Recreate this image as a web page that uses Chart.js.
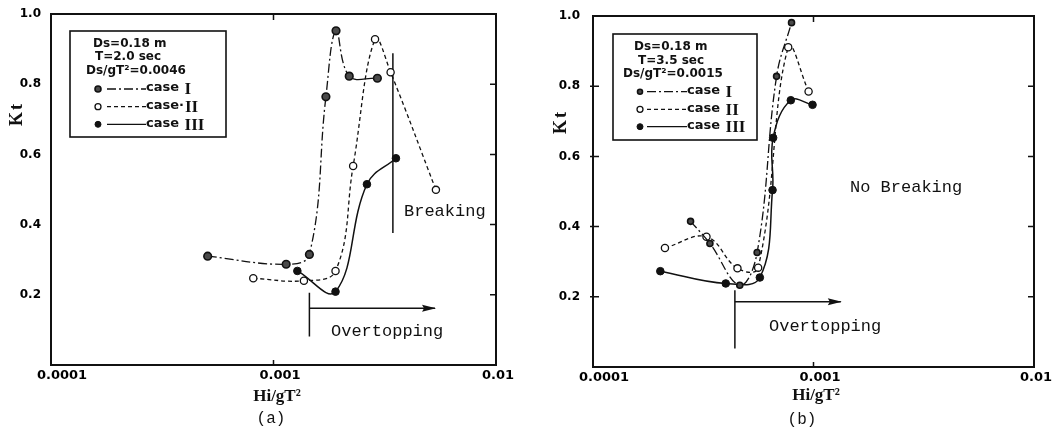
<!DOCTYPE html>
<html><head><meta charset="utf-8">
<script src="https://cdn.jsdelivr.net/npm/chart.js@4"></script>
<style>
html,body{margin:0;padding:0;background:#fff;width:1059px;height:443px;overflow:hidden;}
.panel{position:absolute;top:0;}
canvas{display:block;}
</style></head><body>
<div class="panel" style="left:0"><canvas id="ca" width="529" height="443"></canvas></div>
<div class="panel" style="left:529px"><canvas id="cb" width="530" height="443"></canvas></div>
<script>
// ---- axis ticks ----
const xTickValues = [0.0001, 0.001, 0.01];
const xTickLabels = ['0.0001', '0.001', '0.01'];
const yTickValues = [0.2, 0.4, 0.6, 0.8, 1.0];
const yTickLabels = ['0.2', '0.4', '0.6', '0.8', '1.0'];

// ---- panel (a): T = 2.0 sec ----
const aCaseI_x   = [0.000506, 0.00114, 0.00145, 0.00172, 0.00191, 0.00219, 0.00293];
const aCaseI_y   = [0.31, 0.287, 0.315, 0.764, 0.952, 0.823, 0.817];
const aCaseII_x  = [0.000811, 0.00137, 0.0019, 0.00228, 0.00286, 0.00336, 0.00537];
const aCaseII_y  = [0.247, 0.24, 0.268, 0.567, 0.928, 0.834, 0.499];
const aCaseIII_x = [0.00128, 0.0019, 0.00263, 0.00355];
const aCaseIII_y = [0.268, 0.209, 0.515, 0.589];
const aBreaking_x = [0.00344, 0.00344];
const aBreaking_y = [0.888, 0.376];
const aOverV_x = [0.00145, 0.00145];
const aOverV_y = [0.206, 0.081];
const aOverArrow_x = [0.00145, 0.00532];
const aOverArrow_y = [0.1615, 0.1615];
const aLegendHeader = ['Ds=0.18 m', 'T=2.0 sec', 'Ds/gT\u00B2=0.0046'];
const aCaseNames = [['case ', 'I'], ['case\u00B7', 'II'], ['case ', 'III']];

// ---- panel (b): T = 3.5 sec ----
const bCaseI_x   = [0.000277, 0.000339, 0.000463, 0.000555, 0.00068, 0.000795];
const bCaseI_y   = [0.415, 0.352, 0.233, 0.326, 0.828, 0.981];
const bCaseII_x  = [0.000212, 0.000327, 0.000452, 0.000561, 0.000768, 0.00095];
const bCaseII_y  = [0.339, 0.371, 0.281, 0.283, 0.911, 0.785];
const bCaseIII_x = [0.000202, 0.0004, 0.000571, 0.000652, 0.000656, 0.000789, 0.00099];
const bCaseIII_y = [0.273, 0.238, 0.255, 0.504, 0.653, 0.76, 0.747];
const bOverV_x = [0.00044, 0.00044];
const bOverV_y = [0.219, 0.053];
const bOverArrow_x = [0.00044, 0.00133];
const bOverArrow_y = [0.186, 0.186];
const bLegendHeader = ['Ds=0.18 m', 'T=3.5 sec', 'Ds/gT\u00B2=0.0015'];
const bCaseNames = [['case ', 'I'], ['case ', 'II'], ['case ', 'III']];

// ---- styling ----
const INK = '#111';
const DASH_I = [9, 3, 2, 3];
const DASH_II = [4, 3];
const MONO = '"Liberation Mono", "DejaVu Sans Mono", monospace';
const SANS = '"DejaVu Sans", sans-serif';
const SERIF = '"Liberation Serif", "DejaVu Serif", serif';

function pts(xs, ys) { return xs.map((x, i) => ({ x: x, y: ys[i] })); }

const markerStyles = [
  { fill: '#4a4a4a', stroke: INK, lw: 1.6 },
  { fill: '#ffffff', stroke: INK, lw: 1.3 },
  { fill: INK, stroke: INK, lw: 1 }
];

function seriesSet(c1x, c1y, c2x, c2y, c3x, c3y, r1, solidLastI) {
  const ds1 = {
    label: 'case I', data: pts(c1x, c1y), showLine: true, borderColor: INK, borderWidth: 1.3,
    borderDash: DASH_I, tension: 0.4, pointRadius: r1, pointHoverRadius: r1,
    pointBackgroundColor: markerStyles[0].fill, pointBorderColor: INK, pointBorderWidth: markerStyles[0].lw
  };
  if (solidLastI) {
    ds1.segment = { borderDash: c => (c.p1DataIndex === c1x.length - 1 ? [] : undefined) };
  }
  return [
    ds1,
    { label: 'case II', data: pts(c2x, c2y), showLine: true, borderColor: INK, borderWidth: 1.3,
      borderDash: DASH_II, tension: 0.4, pointRadius: 3.6, pointBackgroundColor: '#fff',
      pointBorderColor: INK, pointBorderWidth: 1.3 },
    { label: 'case III', data: pts(c3x, c3y), showLine: true, borderColor: INK, borderWidth: 1.5,
      tension: 0.4, pointRadius: 3.8, pointBackgroundColor: INK, pointBorderColor: INK, pointBorderWidth: 1 }
  ];
}
function guide(xs, ys, arrow) {
  return { label: '', data: pts(xs, ys), showLine: true, borderColor: INK, borderWidth: 1.5,
    tension: 0, pointRadius: 0, arrowHead: !!arrow };
}

function drawMarker(ctx, x, y, r, st) {
  ctx.beginPath(); ctx.arc(x, y, r, 0, Math.PI * 2);
  ctx.fillStyle = st.fill; ctx.fill();
  ctx.lineWidth = st.lw; ctx.strokeStyle = st.stroke; ctx.stroke();
}

function makeDecor(spec) {
  return {
    id: 'decor' + spec.id,
    afterDatasetsDraw(chart) {
      const ctx = chart.ctx;
      chart.data.datasets.forEach((ds, i) => {
        if (!ds.arrowHead) return;
        const meta = chart.getDatasetMeta(i);
        const p = meta.data[meta.data.length - 1];
        ctx.save();
        ctx.fillStyle = INK;
        ctx.beginPath();
        ctx.moveTo(p.x + 1, p.y);
        ctx.lineTo(p.x - 13, p.y - 3.5);
        ctx.lineTo(p.x - 11, p.y);
        ctx.lineTo(p.x - 13, p.y + 3.5);
        ctx.closePath(); ctx.fill();
        ctx.restore();
      });
    },
    afterDraw(chart) {
      const ctx = chart.ctx;
      const a = chart.chartArea;
      const xs = chart.scales.x, ys = chart.scales.y;
      ctx.save();
      // frame
      ctx.strokeStyle = INK; ctx.lineWidth = 2;
      ctx.strokeRect(a.left, a.top, a.right - a.left, a.bottom - a.top);
      // tick marks
      ctx.lineWidth = 1.5;
      const xm = xs.getPixelForValue(0.001);
      ctx.beginPath();
      ctx.moveTo(xm, a.top); ctx.lineTo(xm, a.top + 6);
      ctx.moveTo(xm, a.bottom); ctx.lineTo(xm, a.bottom - 5);
      yTickValues.forEach(v => {
        if (v >= 1) return;
        const y = ys.getPixelForValue(v);
        ctx.moveTo(a.right, y); ctx.lineTo(a.right - 6, y);
        if (spec.leftTicks) { ctx.moveTo(a.left - 3, y); ctx.lineTo(a.left + 6, y); }
      });
      ctx.stroke();

      // legend box
      const L = spec.legend;
      ctx.fillStyle = '#fff';
      ctx.fillRect(L.box[0], L.box[1], L.box[2] - L.box[0], L.box[3] - L.box[1]);
      ctx.lineWidth = 1.6; ctx.strokeStyle = INK;
      ctx.strokeRect(L.box[0], L.box[1], L.box[2] - L.box[0], L.box[3] - L.box[1]);
      ctx.fillStyle = INK; ctx.textBaseline = 'middle'; ctx.textAlign = 'left';
      ctx.font = 'bold 12px ' + SANS;
      L.header.forEach((h, i) => ctx.fillText(spec.header[i], h[0], h[1]));
      const dashes = [DASH_I, DASH_II, []];
      L.rows.forEach((r, i) => {
        drawMarker(ctx, L.markerX, r, i === 0 ? spec.legendR1 : 3, markerStyles[i]);
        ctx.beginPath(); ctx.setLineDash(dashes[i]); ctx.lineWidth = 1.3; ctx.strokeStyle = INK;
        ctx.moveTo(L.lineX[0], r); ctx.lineTo(L.lineX[1], r); ctx.stroke();
        ctx.setLineDash([]);
        ctx.fillStyle = INK;
        ctx.font = 'bold 13px ' + SANS;
        ctx.fillText(spec.names[i][0], L.lineX[1], r - 1);
        const w = ctx.measureText(spec.names[i][0]).width;
        ctx.font = 'bold 17px ' + SERIF;
        ctx.fillText(spec.names[i][1], L.lineX[1] + w + 1, r + 1);
      });

      // texts
      spec.texts.forEach(t => {
        ctx.save();
        ctx.font = t.font; ctx.fillStyle = INK;
        ctx.textAlign = t.align || 'left'; ctx.textBaseline = 'middle';
        if (t.ls) { try { ctx.letterSpacing = t.ls; } catch (e) {} }
        ctx.translate(t.x, t.y);
        if (t.rot) ctx.rotate(t.rot);
        ctx.fillText(t.text, 0, 0);
        ctx.restore();
      });
      ctx.restore();
    }
  };
}

function makeChart(canvasId, spec) {
  return new Chart(document.getElementById(canvasId), {
    type: 'scatter',
    data: { datasets: spec.datasets },
    options: {
      responsive: false, animation: false, devicePixelRatio: 1,
      layout: { padding: spec.padding },
      plugins: { legend: { display: false }, tooltip: { enabled: false } },
      events: [],
      scales: {
        x: {
          type: 'logarithmic', min: 0.0001, max: 0.01,
          afterBuildTicks: s => { s.ticks = xTickValues.map(v => ({ value: v })); },
          ticks: {
            callback: v => xTickLabels[xTickValues.indexOf(v)],
            align: 'start', labelOffset: -14, padding: 3, autoSkip: false, maxRotation: 0,
            color: '#000', font: { family: 'DejaVu Sans', weight: 'bold', size: 13 }
          },
          grid: { display: false, drawTicks: false }, border: { display: false },
          afterFit: s => { s.height = 20; s.paddingLeft = 0; s.paddingRight = 0; }
        },
        y: {
          type: 'linear', min: 0, max: 1,
          afterBuildTicks: s => { s.ticks = yTickValues.map(v => ({ value: v })); },
          ticks: {
            callback: v => yTickLabels[yTickValues.indexOf(v)],
            padding: spec.yPad, color: '#000',
            font: { family: 'DejaVu Sans', weight: 'bold', size: 12 }
          },
          grid: { display: false, drawTicks: false }, border: { display: false },
          afterFit: s => { s.width = spec.yWidth; s.paddingTop = 0; s.paddingBottom = 0; }
        }
      }
    },
    plugins: [makeDecor(spec)]
  });
}

makeChart('ca', {
  id: 'a',
  datasets: seriesSet(aCaseI_x, aCaseI_y, aCaseII_x, aCaseII_y, aCaseIII_x, aCaseIII_y, 3.8, true)
    .concat([guide(aBreaking_x, aBreaking_y), guide(aOverV_x, aOverV_y), guide(aOverArrow_x, aOverArrow_y, true)]),
  padding: { left: 0, right: 33, top: 14, bottom: 58 },
  yWidth: 51, yPad: 10, leftTicks: false,
  header: aLegendHeader, names: aCaseNames, legendR1: 3,
  legend: { box: [70, 31, 226, 137], header: [[93, 44], [95, 57], [86, 71]],
            rows: [89, 106.7, 124.3], markerX: 98, lineX: [107, 146] },
  texts: [
    { text: 'Kt', x: 17, y: 114, font: 'bold 18px ' + SERIF, align: 'center', rot: -Math.PI / 2, ls: '2px' },
    { text: 'Hi/gT\u00B2', x: 277, y: 397, font: 'bold 17px ' + SERIF, align: 'center' },
    { text: '(a)', x: 271, y: 419, font: '16px ' + MONO, align: 'center' },
    { text: 'Breaking', x: 404, y: 211, font: '17px ' + MONO },
    { text: 'Overtopping', x: 331, y: 331, font: '17px ' + MONO }
  ]
});

makeChart('cb', {
  id: 'b',
  datasets: seriesSet(bCaseI_x, bCaseI_y, bCaseII_x, bCaseII_y, bCaseIII_x, bCaseIII_y, 3, false)
    .concat([guide(bOverV_x, bOverV_y), guide(bOverArrow_x, bOverArrow_y, true)]),
  padding: { left: 0, right: 25, top: 16, bottom: 56 },
  yWidth: 64, yPad: 13, leftTicks: true,
  header: bLegendHeader, names: bCaseNames, legendR1: 2.5,
  legend: { box: [84, 34, 228, 140], header: [[105, 47], [109, 61], [94, 74]],
            rows: [91.7, 109.3, 126.7], markerX: 111, lineX: [118, 158] },
  texts: [
    { text: 'Kt', x: 32, y: 122, font: 'bold 18px ' + SERIF, align: 'center', rot: -Math.PI / 2, ls: '2px' },
    { text: 'Hi/gT\u00B2', x: 287, y: 396, font: 'bold 17px ' + SERIF, align: 'center' },
    { text: '(b)', x: 273, y: 420, font: '16px ' + MONO, align: 'center' },
    { text: 'No Breaking', x: 321, y: 187, font: '17px ' + MONO },
    { text: 'Overtopping', x: 240, y: 326, font: '17px ' + MONO }
  ]
});
</script>
</body></html>
